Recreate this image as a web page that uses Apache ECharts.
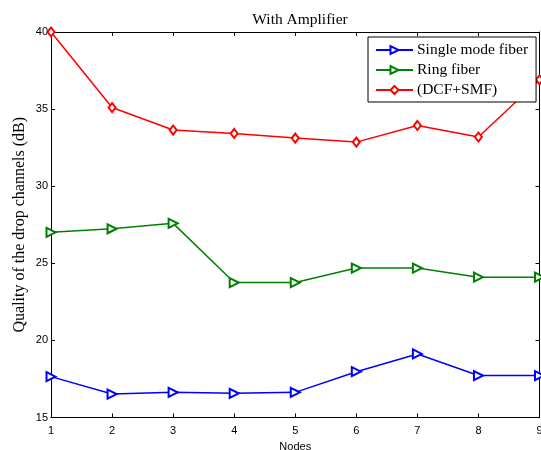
<!DOCTYPE html>
<html lang="en">
<head>
    <meta charset="UTF-8">
    <title>With Amplifier</title>
    <script src="https://cdn.jsdelivr.net/npm/echarts@6/dist/echarts.min.js" type="text/javascript"></script>
    <style>
        html, body {margin: 0; padding: 0; background: #fff;}
        #chart {width: 541px; height: 450px;}
    </style>
</head>
<body>
<div id="chart"></div>
<script>
    // 数据
    var nodes = [1, 2, 3, 4, 5, 6, 7, 8, 9];
    var smf = [17.65, 16.52, 16.63, 16.57, 16.63, 17.97, 19.12, 17.72, 17.72];
    var ring = [27.01, 27.24, 27.59, 23.75, 23.75, 24.69, 24.69, 24.1, 24.1];
    var dcf = [40, 35.1, 33.64, 33.42, 33.12, 32.86, 33.94, 33.19, 36.9];
    var seriesNames = ['Single mode fiber', 'Ring fiber', '(DCF+SMF)'];

    function pairs(ys) {
        var out = [];
        for (var i = 0; i < nodes.length; i++) {
            out.push([nodes[i], ys[i]]);
        }
        return out;
    }

    var serif = '"Liberation Serif", "Times New Roman", serif';
    var sans = '"Liberation Sans", Arial, sans-serif';

    function lineSeries(name, ys, color, symbol, size, rotate) {
        return {
            name: name,
            type: 'line',
            data: pairs(ys),
            symbol: symbol,
            symbolSize: size,
            symbolRotate: rotate,
            showSymbol: true,
            clip: false,
            lineStyle: {color: color, width: 1.5},
            itemStyle: {color: color, borderColor: color, borderWidth: 1.5},
            emphasis: {disabled: true}
        };
    }

    var option = {
        animation: false,
        backgroundColor: '#fff',
        title: {
            text: 'With Amplifier',
            left: 295,
            textAlign: 'center',
            top: 7,
            textStyle: {fontFamily: serif, fontSize: 15.5, fontWeight: 'normal', color: '#000'}
        },
        grid: {left: 51, right: 1.5, top: 32, bottom: 32.5, show: false, outerBoundsMode: 'none', containLabel: false},
        legend: {
            orient: 'vertical',
            left: 368,
            top: 37,
            width: 168,
            padding: [5, 8, 4, 7],
            itemWidth: 37,
            itemHeight: 10,
            itemGap: 4,
            borderColor: '#000',
            borderWidth: 1,
            backgroundColor: '#fff',
            textStyle: {fontFamily: serif, fontSize: 15.5, color: '#000', padding: [0, 0, 0, -1]},
            data: seriesNames
        },
        xAxis: [{
            type: 'value',
            min: 1,
            max: 9,
            interval: 1,
            name: 'Nodes',
            nameLocation: 'middle',
            nameGap: 23,
            nameTextStyle: {fontFamily: sans, fontSize: 11, color: '#000'},
            axisLine: {show: true, lineStyle: {color: '#000', width: 1}},
            axisTick: {show: true, inside: true, length: 4, lineStyle: {color: '#000'}},
            axisLabel: {fontFamily: sans, fontSize: 11, color: '#000', margin: 8},
            splitLine: {show: false}
        }, {
            type: 'value',
            position: 'top',
            min: 1,
            max: 9,
            interval: 1,
            axisLine: {show: true, onZero: false, lineStyle: {color: '#000', width: 1}},
            axisTick: {show: true, inside: true, length: 4, lineStyle: {color: '#000'}},
            axisLabel: {show: false},
            splitLine: {show: false}
        }],
        yAxis: [{
            type: 'value',
            min: 15,
            max: 40,
            interval: 5,
            name: 'Quality of the drop channels (dB)',
            nameLocation: 'middle',
            nameRotate: 90,
            nameGap: 23.5,
            nameMoveOverlap: false,
            nameTextStyle: {fontFamily: serif, fontSize: 16, color: '#000'},
            axisLine: {show: true, lineStyle: {color: '#000', width: 1}},
            axisTick: {show: true, inside: true, length: 4, lineStyle: {color: '#000'}},
            axisLabel: {fontFamily: sans, fontSize: 11, color: '#000', margin: 3},
            splitLine: {show: false}
        }, {
            type: 'value',
            position: 'right',
            min: 15,
            max: 40,
            interval: 5,
            axisLine: {show: true, onZero: false, lineStyle: {color: '#000', width: 1}},
            axisTick: {show: true, inside: true, length: 4, lineStyle: {color: '#000'}},
            axisLabel: {show: false},
            splitLine: {show: false}
        }],
        series: [
            lineSeries(seriesNames[0], smf, '#0000ff', 'emptyTriangle', 9, -90),
            lineSeries(seriesNames[1], ring, '#008000', 'emptyTriangle', 9, -90),
            lineSeries(seriesNames[2], dcf, '#ff0000', 'emptyDiamond', [7, 9], 0)
        ]
    };

    var chart = echarts.init(document.getElementById('chart'));
    chart.setOption(option);
</script>
</body>
</html>
